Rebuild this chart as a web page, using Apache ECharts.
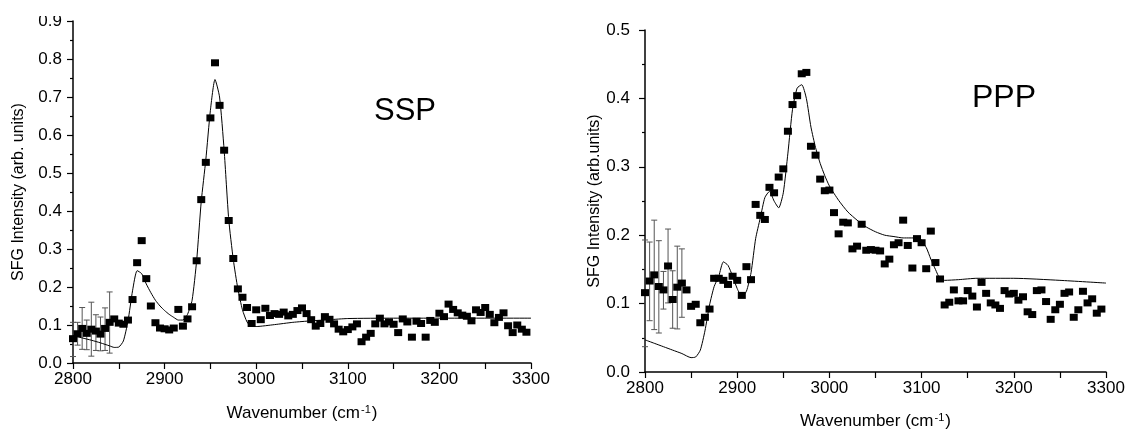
<!DOCTYPE html>
<html>
<head>
<meta charset="utf-8">
<title>SFG spectra SSP / PPP</title>
<script src="https://cdn.jsdelivr.net/npm/echarts@6/dist/echarts.min.js"></script>
<style>
  html, body { margin: 0; padding: 0; background: #fff; }
  #chart { width: 1129px; height: 429px; }
</style>
</head>
<body>
<div id="chart"></div>
<script>
// spectra are sampled every 5 cm-1 starting at 2800
var wnStart = 2800
var wnStep = 5

// SSP measured points (2800 ... 3295)
var sspData = [
  0.064, 0.077, 0.091, 0.078, 0.089, 0.084, 0.076, 0.091, 0.107, 0.116,
  0.105, 0.102, 0.113, 0.167, 0.264, 0.322, 0.222, 0.150, 0.106, 0.092,
  0.090, 0.087, 0.092, 0.141, 0.097, 0.116, 0.148, 0.269, 0.430, 0.528,
  0.645, 0.790, 0.678, 0.560, 0.375, 0.275, 0.195, 0.173, 0.146, 0.104,
  0.140, 0.114, 0.144, 0.125, 0.130, 0.128, 0.134, 0.124, 0.128, 0.138,
  0.145, 0.130, 0.114, 0.097, 0.104, 0.122, 0.115, 0.103, 0.089, 0.082,
  0.088, 0.095, 0.103, 0.056, 0.068, 0.078, 0.103, 0.118, 0.103, 0.108,
  0.102, 0.080, 0.116, 0.108, 0.068, 0.110, 0.104, 0.068, 0.112, 0.107,
  0.131, 0.122, 0.155, 0.141, 0.132, 0.126, 0.123, 0.111, 0.140, 0.133,
  0.146, 0.128, 0.106, 0.120, 0.132, 0.098, 0.080, 0.100, 0.089, 0.081
]
// PPP measured points (2800 ... 3295)
var pppData = [
  0.116, 0.133, 0.142, 0.125, 0.120, 0.155, 0.106, 0.124, 0.130, 0.120,
  0.096, 0.099, 0.072, 0.080, 0.092, 0.137, 0.137, 0.134, 0.128, 0.140,
  0.134, 0.112, 0.154, 0.135, 0.245, 0.229, 0.223, 0.270, 0.262, 0.285,
  0.297, 0.352, 0.391, 0.404, 0.436, 0.438, 0.330, 0.317, 0.282, 0.265,
  0.266, 0.233, 0.202, 0.219, 0.218, 0.180, 0.184, 0.216, 0.178, 0.179,
  0.178, 0.177, 0.158, 0.165, 0.186, 0.189, 0.222, 0.185, 0.152, 0.195,
  0.189, 0.151, 0.206, 0.160, 0.136, 0.098, 0.102, 0.120, 0.104, 0.104,
  0.119, 0.111, 0.095, 0.131, 0.115, 0.101, 0.098, 0.093, 0.119, 0.114,
  0.115, 0.105, 0.110, 0.088, 0.084, 0.119, 0.120, 0.103, 0.077, 0.091,
  0.099, 0.115, 0.117, 0.080, 0.091, 0.118, 0.101, 0.107, 0.086, 0.092
]

// error bars on the first 9 points (low / high)
var sspErrLow = [0.017, 0.047, 0.036, 0.035, 0.018, 0.033, 0.032, 0.033, 0.026]
var sspErrHigh = [0.107, 0.107, 0.146, 0.113, 0.160, 0.127, 0.121, 0.145, 0.187]
var pppErrLow = [0.037, 0.075, 0.062, 0.057, 0.092, 0.101, 0.064, 0.063, 0.080]
var pppErrHigh = [0.193, 0.190, 0.222, 0.192, 0.147, 0.209, 0.148, 0.184, 0.180]

// fitted curves
var sspFitX = [2800, 2810, 2820, 2830, 2840, 2845, 2850, 2855, 2860, 2865,
  2870, 2875, 2880, 2885, 2890, 2895, 2900, 2905, 2910, 2915,
  2920, 2925, 2930, 2935, 2940, 2945, 2950, 2955, 2960, 2965,
  2970, 2975, 2980, 2985, 2990, 2995, 3000, 3020, 3040, 3060,
  3080, 3100, 3150, 3200, 3300]
var sspFitY = [0.072, 0.066, 0.060, 0.053, 0.045, 0.041, 0.042, 0.058, 0.110, 0.190,
  0.243, 0.235, 0.208, 0.185, 0.165, 0.150, 0.138, 0.128, 0.120, 0.113,
  0.113, 0.128, 0.165, 0.270, 0.425, 0.535, 0.665, 0.746, 0.700, 0.560,
  0.378, 0.272, 0.195, 0.140, 0.108, 0.096, 0.096, 0.101, 0.107, 0.111,
  0.114, 0.117, 0.118, 0.118, 0.118]

var pppFitX = [2800, 2810, 2820, 2830, 2840, 2850, 2855, 2860, 2865, 2870,
  2875, 2880, 2885, 2890, 2895, 2900, 2905, 2910, 2915, 2920,
  2925, 2930, 2935, 2940, 2945, 2950, 2955, 2960, 2965, 2970,
  2975, 2980, 2985, 2990, 2995, 3000, 3010, 3020, 3030, 3040,
  3050, 3060, 3070, 3080, 3097, 3105, 3110, 3115, 3120, 3125,
  3140, 3160, 3200, 3250, 3300]
var pppFitY = [0.047, 0.042, 0.037, 0.032, 0.027, 0.021, 0.022, 0.032, 0.060, 0.098,
  0.125, 0.140, 0.161, 0.156, 0.140, 0.122, 0.110, 0.118, 0.145, 0.195,
  0.225, 0.255, 0.264, 0.250, 0.240, 0.262, 0.320, 0.384, 0.415, 0.420,
  0.400, 0.358, 0.328, 0.305, 0.287, 0.272, 0.251, 0.234, 0.222, 0.212,
  0.205, 0.200, 0.198, 0.196, 0.196, 0.182, 0.165, 0.150, 0.136, 0.134,
  0.135, 0.137, 0.137, 0.134, 0.130]

var xTicks = [2800, 2900, 3000, 3100, 3200, 3300]

var FONT = 'Arial, "Liberation Sans", sans-serif'

// [wavenumber, value] pairs for the scatter
function toPoints(arr) {
  return arr.map(function(v, i) {
    return [wnStart + i * wnStep, v]
  })
}
function toErr(lo, hi) {
  return lo.map(function(v, i) {
    return [wnStart + i * wnStep, v, hi[i]]
  })
}
function zip(xs, ys) {
  return xs.map(function(x, i) {
    return [x, ys[i]]
  })
}

// vertical bar with small caps
function renderErr(params, api) {
  var x = api.value(0)
  var top = api.coord([x, api.value(2)])
  var bot = api.coord([x, api.value(1)])
  var hw = 3
  var style = { stroke: '#555', lineWidth: 1 }
  return {
    type: 'group',
    children: [
      { type: 'line', shape: { x1: top[0], y1: top[1], x2: bot[0], y2: bot[1] }, style: style },
      { type: 'line', shape: { x1: top[0] - hw, y1: top[1], x2: top[0] + hw, y2: top[1] }, style: style },
      { type: 'line', shape: { x1: bot[0] - hw, y1: bot[1], x2: bot[0] + hw, y2: bot[1] }, style: style }
    ]
  }
}

function xAxisDef(idx, gap) {
  return {
    gridIndex: idx,
    type: 'value',
    min: xTicks[0],
    max: xTicks[xTicks.length - 1],
    interval: 100,
    name: 'Wavenumber (cm{sup|-1})',
    nameLocation: 'middle',
    nameGap: gap,
    nameTextStyle: {
      fontFamily: FONT, fontSize: 17, color: '#000',
      rich: { sup: { fontFamily: FONT, fontSize: 11, color: '#000', verticalAlign: 'top', padding: [0, 1, 8, 1] } }
    },
    axisLine: { lineStyle: { color: '#000', width: 1.5 } },
    axisTick: { inside: false, length: 6, lineStyle: { color: '#000', width: 1.2 } },
    minorTick: { show: true, splitNumber: 2, length: 6, lineStyle: { color: '#000', width: 1.2 } },
    axisLabel: {
      fontFamily: FONT, fontSize: 17, color: '#000', margin: 8,
      formatter: function(v) { return String(v) }
    },
    splitLine: { show: false }
  }
}

function yAxisDef(idx, max, name, gap, labelMargin) {
  return {
    gridIndex: idx,
    type: 'value',
    min: 0,
    max: max,
    interval: 0.1,
    name: name,
    nameLocation: 'middle',
    nameGap: gap,
    nameTextStyle: { fontFamily: FONT, fontSize: 16, color: '#000' },
    axisLine: { show: true, lineStyle: { color: '#000', width: 1.5 } },
    axisTick: { show: true, length: 6, lineStyle: { color: '#000', width: 1.2 } },
    minorTick: { show: true, splitNumber: 2, length: 3, lineStyle: { color: '#000', width: 1.2 } },
    axisLabel: {
      fontFamily: FONT, fontSize: 17, color: '#000', margin: labelMargin,
      formatter: function(v) { return v.toFixed(1) }
    },
    splitLine: { show: false }
  }
}

var chart = echarts.init(document.getElementById('chart'))

var option = {
  animation: false,
  backgroundColor: '#fff',
  // fixed plot boxes, no automatic shrinking to fit the axis names
  grid: [
    { left: 73, top: 21, width: 458, height: 342, outerBoundsMode: 'none' },
    { left: 645, top: 30, width: 461, height: 342, outerBoundsMode: 'none' }
  ],
  xAxis: [xAxisDef(0, 41), xAxisDef(1, 40)],
  yAxis: [
    yAxisDef(0, 0.9, 'SFG Intensity (arb. units)', 46, 11),
    yAxisDef(1, 0.5, 'SFG Intensity (arb.units)', 37, 15)
  ],
  graphic: [
    // the left panel is cropped at the top in the original figure
    { type: 'rect', z: 100, shape: { x: 0, y: 0, width: 150, height: 16 }, style: { fill: '#fff' } },
    { type: 'text', left: 374, top: 96, style: { text: 'SSP', font: '31px ' + FONT, fill: '#000' } },
    { type: 'text', left: 972, top: 82, style: { text: 'PPP', font: '32px ' + FONT, fill: '#000' } }
  ],
  series: [
    {
      type: 'custom', xAxisIndex: 0, yAxisIndex: 0, z: 1,
      renderItem: renderErr, encode: { x: 0, y: [1, 2] },
      data: toErr(sspErrLow, sspErrHigh)
    },
    {
      type: 'line', xAxisIndex: 0, yAxisIndex: 0, z: 2,
      showSymbol: false, smooth: 0.2,
      lineStyle: { color: '#000', width: 1 },
      data: zip(sspFitX, sspFitY)
    },
    {
      type: 'scatter', xAxisIndex: 0, yAxisIndex: 0, z: 3,
      symbol: 'rect', symbolSize: [8, 7],
      itemStyle: { color: '#000', opacity: 1 },
      data: toPoints(sspData)
    },
    {
      type: 'custom', xAxisIndex: 1, yAxisIndex: 1, z: 1,
      renderItem: renderErr, encode: { x: 0, y: [1, 2] },
      data: toErr(pppErrLow, pppErrHigh)
    },
    {
      type: 'line', xAxisIndex: 1, yAxisIndex: 1, z: 2,
      showSymbol: false, smooth: 0.2,
      lineStyle: { color: '#000', width: 1 },
      data: zip(pppFitX, pppFitY)
    },
    {
      type: 'scatter', xAxisIndex: 1, yAxisIndex: 1, z: 3,
      symbol: 'rect', symbolSize: [8, 7],
      itemStyle: { color: '#000', opacity: 1 },
      data: toPoints(pppData)
    }
  ]
}

chart.setOption(option)
</script>
</body>
</html>
